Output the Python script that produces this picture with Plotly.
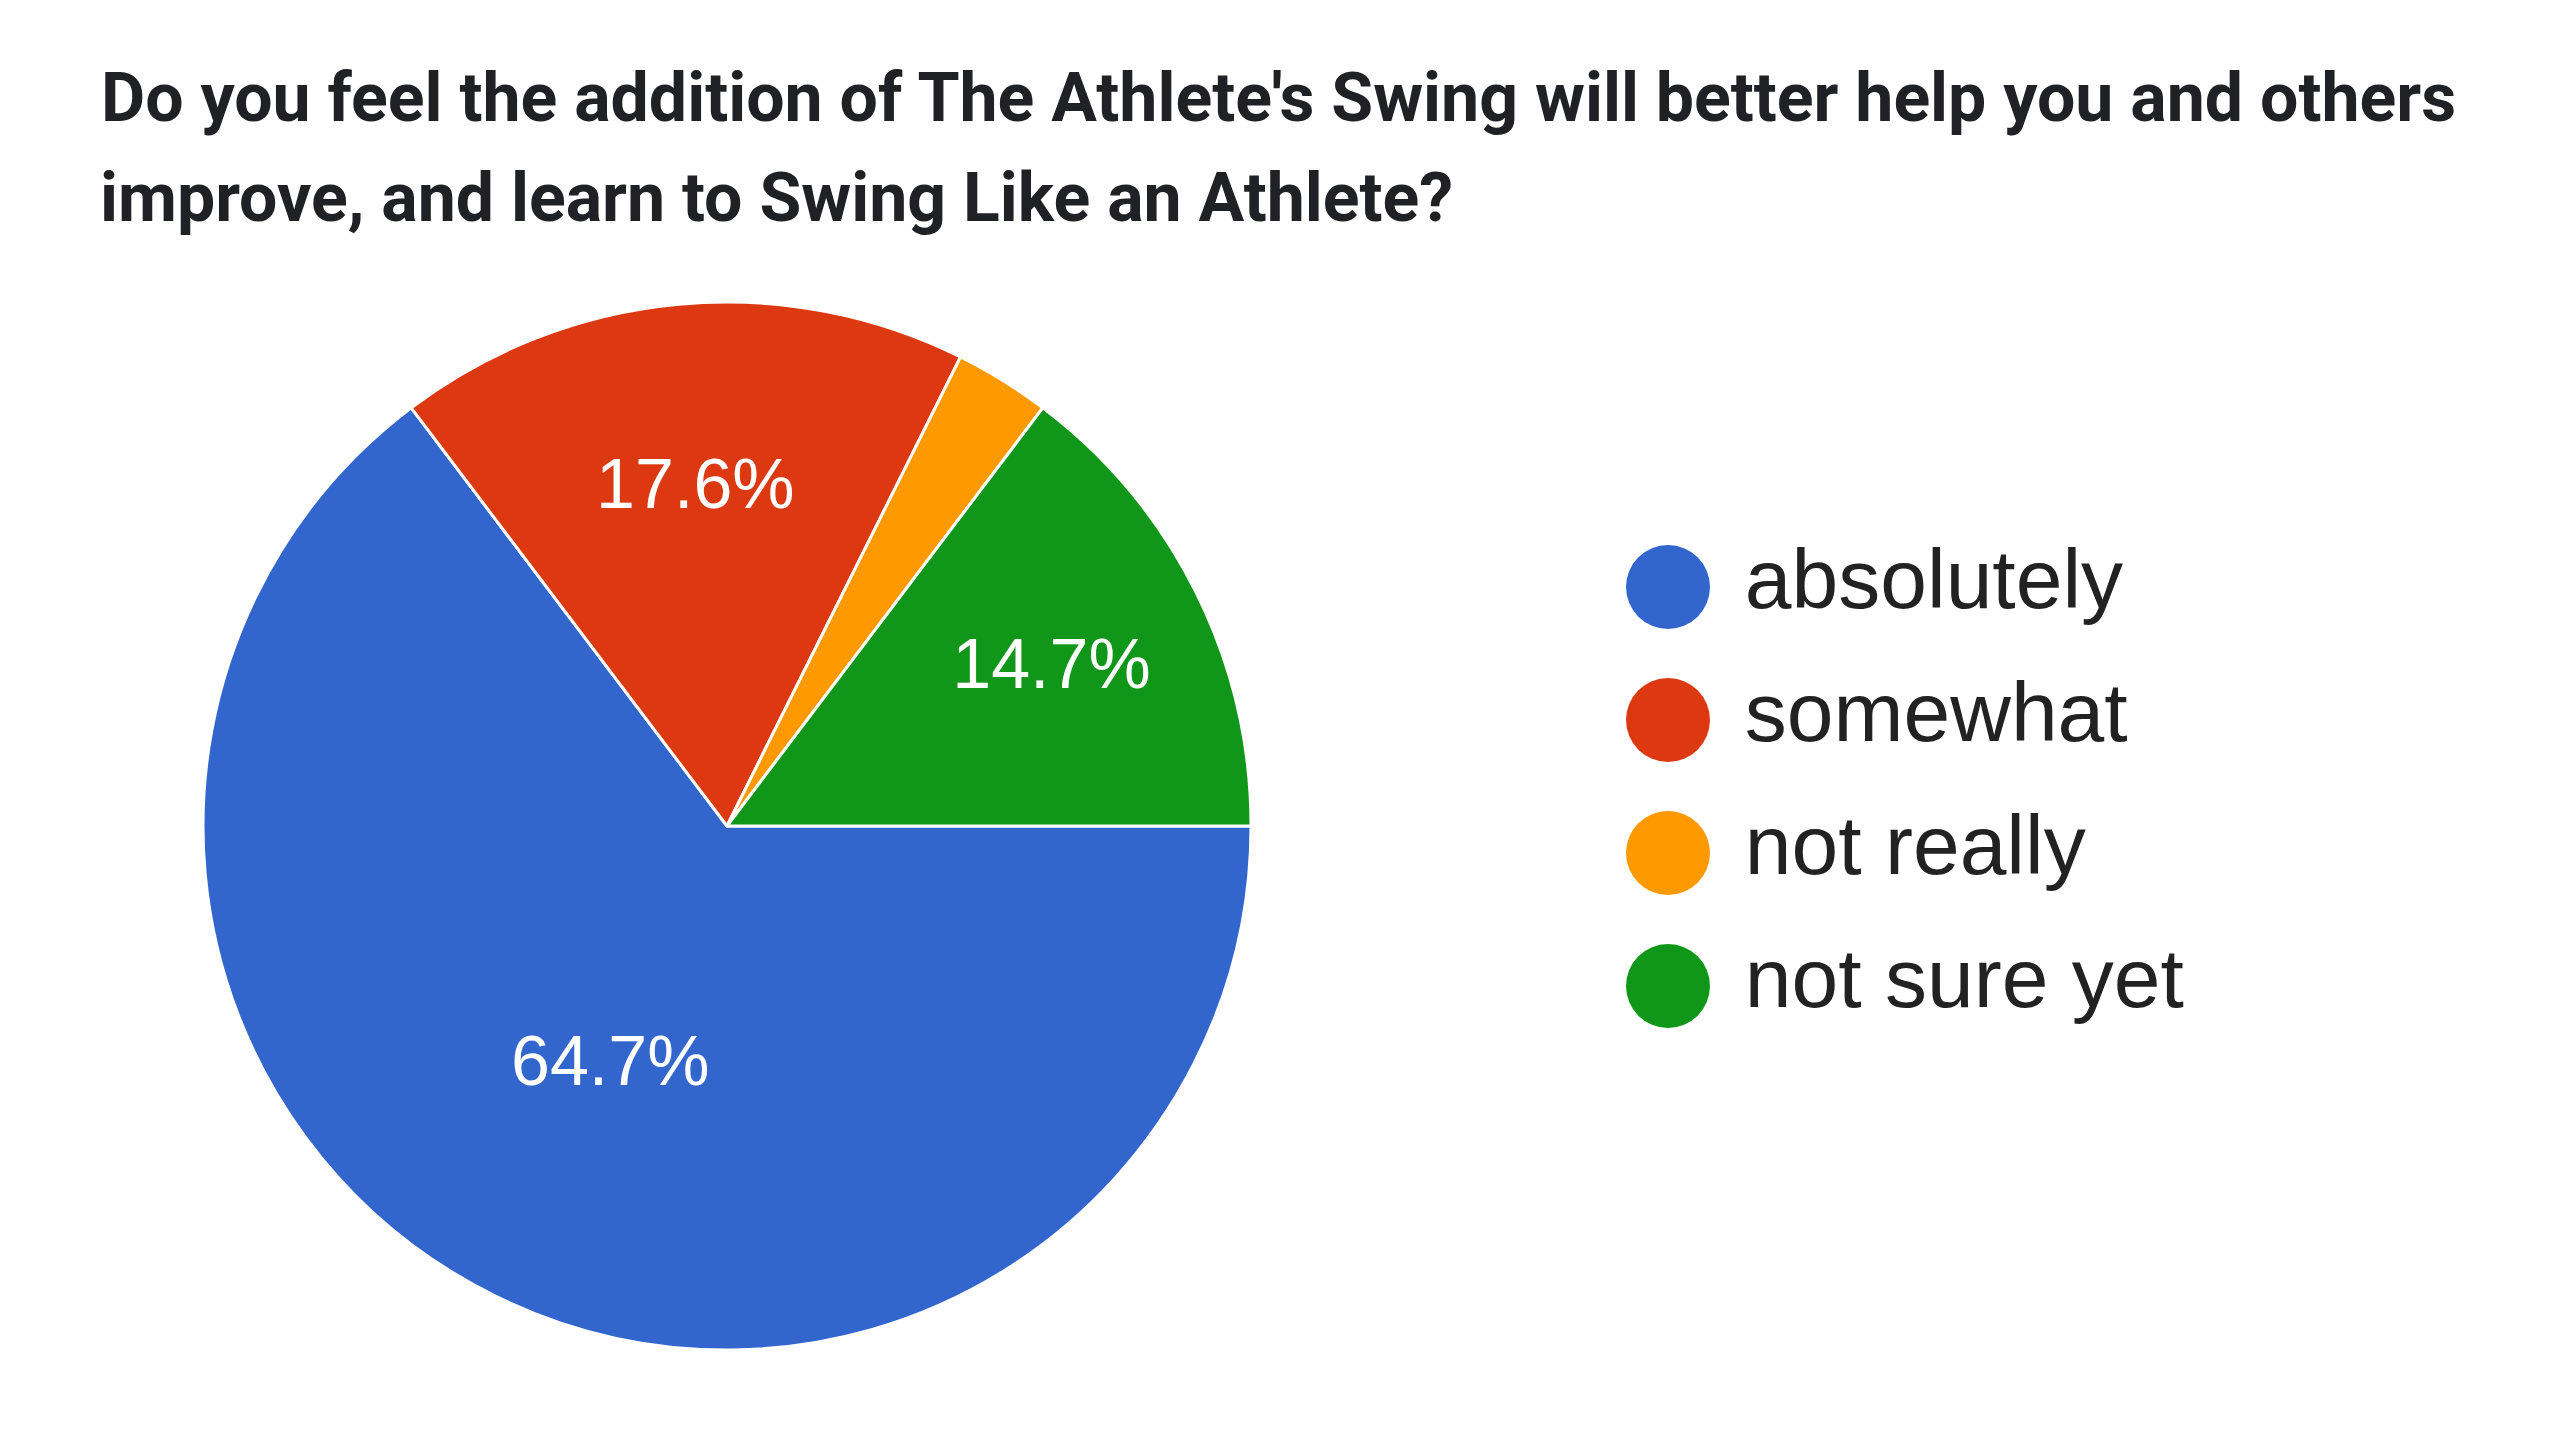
import plotly.graph_objects as go

# survey answers (34 responses)
answers = ['absolutely', 'somewhat', 'not really', 'not sure yet']
counts = [22, 6, 1, 5]
colors = ['#3366cc', '#dc3912', '#ff9900', '#109618']
# the tiny slice gets no label, like the original google chart
label_fmt = ['%{percent:.1%}', '%{percent:.1%}', '', '%{percent:.1%}']

title_l1 = "Do you feel the addition of The Athlete's Swing will better help you and others"
title_l2 = "improve, and learn to Swing Like an Athlete?"

W, H = 2560, 1440
title_font = dict(family='Roboto', size=68, color='#202124', weight='bold')

fig = go.Figure()

fig.add_trace(go.Pie(labels=answers, values=counts,
                     sort=False, direction='clockwise', rotation=90,
                     marker=dict(colors=colors, line=dict(color='white', width=3)),
                     texttemplate=label_fmt,
                     textposition='inside',
                     insidetextorientation='horizontal',
                     insidetextfont=dict(family='Liberation Sans', size=70, color='white'),
                     domain=dict(x=[195 / W, 1243 / W], y=[1 - 1342 / H, 1 - 294 / H]),
                     showlegend=False,
                     hoverinfo='label+percent'))

# legend drawn as a column of big round markers with their answer text
fig.add_trace(go.Scatter(x=[0] * len(answers), y=answers,
                         mode='markers+text',
                         marker=dict(size=84, color=colors),
                         text=[' ' + a for a in answers],
                         textposition='middle right',
                         textfont=dict(family='Liberation Sans', size=84, color='#222222'),
                         cliponaxis=False,
                         showlegend=False, hoverinfo='skip'))

fig.update_layout(
    width=W, height=H,
    paper_bgcolor='white', plot_bgcolor='white',
    margin=dict(l=0, r=0, t=0, b=0),
    title=dict(text=title_l1, x=93 / W, xanchor='left', xref='paper',
               y=1 - 65 / H, yanchor='top', yref='paper',
               font=title_font),
    xaxis=dict(domain=[1660 / W, 1.0], range=[0, 1], visible=False, fixedrange=True),
    yaxis=dict(domain=[1 - 1044.5 / H, 1 - 512.5 / H], type='category',
               range=[3.5, -0.5], visible=False, fixedrange=True),
)

# second title line, set a little lower than plotly's <br> spacing would put it
fig.add_annotation(text=title_l2, xref='paper', yref='paper',
                   x=90 / W, y=1 - 190 / H, xanchor='left', yanchor='middle',
                   showarrow=False, font=title_font)

fig.write_html("out.html")
